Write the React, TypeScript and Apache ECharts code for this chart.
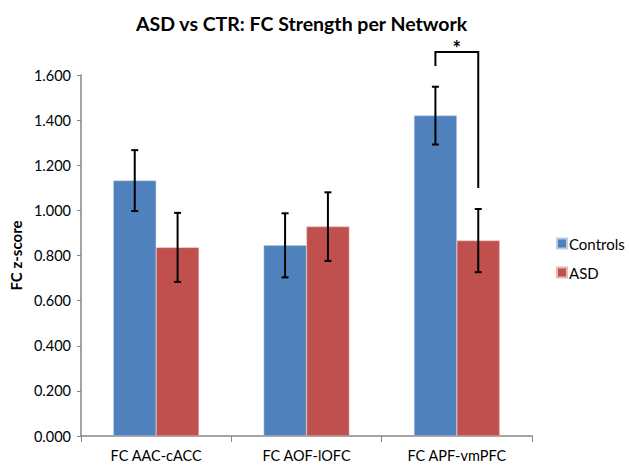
import React, { useEffect, useRef } from "react";
import * as echarts from "echarts";

const categories = ["FC AAC-cACC", "FC AOF-lOFC", "FC APF-vmPFC"];
const controls = [1.132, 0.845, 1.42];
const asd = [0.836, 0.928, 0.866];
const controlsErr = [0.135, 0.142, 0.128];
const asdErr = [0.153, 0.152, 0.14];
// significance bracket: [category, leftFoot, top, rightFoot, starY]
const bracket = [[2, 1.64, 1.702, 1.099, 1.72]];

const FONT = "Lato, 'Open Sans', sans-serif";
const CAT_GAP = 0.43;

function errSeries(name: string, vals: number[], errs: number[], side: number) {
  return {
    type: "custom",
    name: name + "-err",
    z: 5,
    silent: true,
    data: vals.map((v, i) => [i, v - errs[i], v + errs[i]]),
    renderItem: (params: any, api: any) => {
      const cat = api.value(0);
      const lo = api.coord([cat, api.value(1)]);
      const hi = api.coord([cat, api.value(2)]);
      const catW = api.size([1, 0])[0];
      const barW = (catW * (1 - CAT_GAP)) / 2;
      const x = lo[0] + side * barW / 2;
      const cap = 3.5;
      const style = { stroke: "#000", lineWidth: 2 };
      return {
        type: "group",
        children: [
          { type: "line", shape: { x1: x, y1: lo[1], x2: x, y2: hi[1] }, style },
          { type: "line", shape: { x1: x - cap, y1: lo[1], x2: x + cap, y2: lo[1] }, style },
          { type: "line", shape: { x1: x - cap, y1: hi[1], x2: x + cap, y2: hi[1] }, style },
        ],
      };
    },
  };
}

export default function App() {
  const ref = useRef<HTMLDivElement>(null);
  useEffect(() => {
    const chart = echarts.init(ref.current!, null, { renderer: "svg" });
    chart.setOption({
      animation: false,
      backgroundColor: "#fff",
      title: {
        text: "ASD vs CTR: FC Strength per Network",
        left: 131,
        top: 8,
        textStyle: { fontFamily: FONT, fontSize: 19.5, fontWeight: "bold", color: "#000" },
      },
      legend: {
        orient: "vertical",
        left: 551,
        top: 231,
        itemWidth: 10,
        itemHeight: 10,
        itemGap: 14,
        icon: "rect",
        data: ["Controls", "ASD"],
        textStyle: { fontFamily: FONT, fontSize: 15, color: "#000", padding: [0, 0, 0, -3] },
      },
      grid: { left: 80, right: 97, top: 75, bottom: 31 },
      xAxis: {
        type: "category",
        data: categories,
        axisLine: { lineStyle: { color: "#868686", width: 1.5 } },
        axisTick: { show: true, length: 6, lineStyle: { color: "#868686" } },
        axisLabel: { fontFamily: FONT, fontSize: 14.5, color: "#000", margin: 12 },
      },
      yAxis: {
        type: "value",
        min: 0,
        max: 1.6,
        interval: 0.2,
        name: "FC z-score",
        nameLocation: "middle",
        nameGap: 58,
        nameTextStyle: { fontFamily: FONT, fontSize: 15, fontWeight: "bold", color: "#000" },
        axisLine: { show: true, lineStyle: { color: "#868686", width: 1.5 } },
        axisTick: { show: true, length: 4, lineStyle: { color: "#868686" } },
        splitLine: { show: false },
        axisLabel: {
          fontFamily: FONT,
          fontSize: 14.5,
          color: "#000",
          margin: 10,
          formatter: (v: number) => v.toFixed(3),
        },
      },
      series: [
        {
          type: "bar",
          name: "Controls",
          data: controls,
          barGap: "0%",
          barCategoryGap: CAT_GAP * 100 + "%",
          itemStyle: { color: "#4F81BD", borderColor: "#B9CDE5", borderWidth: 0.5 },
        },
        {
          type: "bar",
          name: "ASD",
          data: asd,
          itemStyle: { color: "#C0504D", borderColor: "#E6B9B8", borderWidth: 0.5 },
        },
        errSeries("Controls", controls, controlsErr, -1),
        errSeries("ASD", asd, asdErr, 1),
        {
          type: "custom",
          name: "sig",
          silent: true,
          clip: false,
          z: 6,
          data: bracket,
          renderItem: (params: any, api: any) => {
            const cat = api.value(0);
            const catW = api.size([1, 0])[0];
            const barW = (catW * (1 - CAT_GAP)) / 2;
            const c = api.coord([cat, api.value(2)]);
            const xl = c[0] - barW / 2;
            const xr = c[0] + barW / 2;
            const yl = api.coord([cat, api.value(1)])[1];
            const yr = api.coord([cat, api.value(3)])[1];
            const ys = api.coord([cat, api.value(4)])[1];
            return {
              type: "group",
              children: [
                {
                  type: "polyline",
                  shape: { points: [[xl, yl], [xl, c[1]], [xr, c[1]], [xr, yr]] },
                  style: { stroke: "#000", lineWidth: 2, fill: "none" },
                },
                {
                  type: "text",
                  style: {
                    x: c[0],
                    y: ys,
                    text: "*",
                    fontFamily: FONT,
                    fontSize: 20,
                    fontWeight: "bold",
                    fill: "#000",
                    align: "center",
                    verticalAlign: "middle",
                  },
                },
              ],
            };
          },
        },
      ],
    });
    return () => chart.dispose();
  }, []);
  return <div ref={ref} style={{ width: 629, height: 467, position: "absolute", left: 0, top: 0 }} />;
}
